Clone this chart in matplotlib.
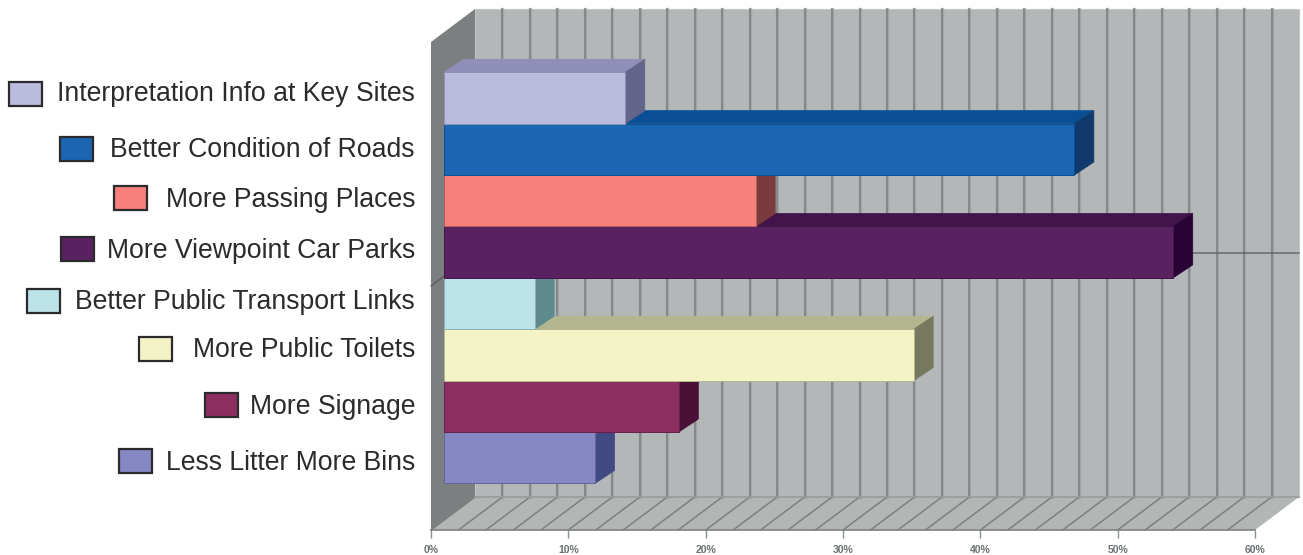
import numpy as np
import matplotlib
matplotlib.use("Agg")
import matplotlib.pyplot as plt
from matplotlib.patches import Polygon, Rectangle
from matplotlib.transforms import Affine2D

plt.rcParams['font.family'] = ['Liberation Sans', 'DejaVu Sans']

# Survey results, top bar first
categories = ['Interpretation Info at Key Sites', 'Better Condition of Roads',
              'More Passing Places', 'More Viewpoint Car Parks',
              'Better Public Transport Links', 'More Public Toilets',
              'More Signage', 'Less Litter More Bins']
values = [13.2, 45.9, 22.7, 53.1, 6.6, 34.2, 17.1, 11.0]

front_colors = ['#bbbbdd', '#1b66b3', '#f77f7c', '#5a2160', '#bce3e9', '#f3f3c5', '#8d2e63', '#8688c4']
top_colors = ['#8f8fb8', '#0a4f94', '#b5605e', '#42144a', '#8fb0b4', '#b3b78f', '#6a1f48', '#64669a']
side_colors = ['#63648a', '#103a6b', '#7a3b3e', '#2a0336', '#5d8a8c', '#77795f', '#4a1038', '#424a84']

x_ticks = [0, 10, 20, 30, 40, 50, 60]
x_labels = ['0%', '10%', '20%', '30%', '40%', '50%', '60%']

# Legend layout in pixels: swatch left edge, swatch centre, text centre
swatch_left = [9, 60, 114, 61, 27, 139, 205, 119]
swatch_mid = [94, 149, 198, 249, 301, 349, 405, 461]
text_mid = [94, 150, 200, 251, 302, 350, 407, 463]

W, H = 1303, 555
fig = plt.figure(figsize=(W / 100, H / 100), dpi=100)
ax = fig.add_axes([431 / W, 1 - 530 / H, 824 / W, 488 / H])
ax.set_xlim(0, 60)
ax.set_ylim(8.216, -1.278)
ax.patch.set_visible(False)

# Depth of the box and of each bar, in data units
wall_dx, wall_dy = 44 / 824 * 60, 33 / 51.4
bar_dx, bar_dy = 19.5 / 824 * 60, 13 / 51.4
y0, y1 = ax.get_ylim()

wall = '#b3b7b8'
grid = '#7c8081'

# Back wall, side wall and floor
ax.add_patch(Polygon([(wall_dx, y1 - wall_dy), (60 + wall_dx, y1 - wall_dy),
                      (60 + wall_dx, y0 - wall_dy), (wall_dx, y0 - wall_dy)],
                     fc=wall, ec='#c4c7c8', lw=0.8, clip_on=False, zorder=1))
ax.add_patch(Polygon([(0, y1), (wall_dx, y1 - wall_dy), (wall_dx, y0 - wall_dy), (0, y0)],
                     fc='#7b7f7f', ec='none', clip_on=False, zorder=1))
ax.add_patch(Polygon([(0, y0), (60, y0), (60 + wall_dx, y0 - wall_dy), (wall_dx, y0 - wall_dy)],
                     fc='#b2b6b5', ec='none', clip_on=False, zorder=1))

# Gridlines every 2% up the back wall and across the floor
for g in np.arange(0, 61, 2):
    bx = g + wall_dx
    if g > 0 and g < 60:
        ax.plot([bx, bx], [y1 - wall_dy, y0 - wall_dy], color='#979b9c', lw=2.4, alpha=0.6,
                clip_on=False, zorder=2)
        ax.plot([bx, bx], [y1 - wall_dy, y0 - wall_dy], color=grid, lw=1.1,
                clip_on=False, zorder=2)
    if g < 60:
        ax.plot([g, bx], [y0, y0 - wall_dy], color=grid, lw=1.1, clip_on=False, zorder=2)
ax.plot([wall_dx, 60 + wall_dx], [y0 - wall_dy, y0 - wall_dy], color='#989c9c', lw=1.2,
        clip_on=False, zorder=2)

# Middle horizontal line along the side wall and back wall
ym = (y0 + y1) / 2
ax.plot([0, wall_dx, 60 + wall_dx], [ym, ym - wall_dy, ym - wall_dy], color='#565a5b', lw=0.9,
        clip_on=False, zorder=2)

# Bars sit a little behind the front plane
bar_t = ax.transData + Affine2D().translate(13, 9.75)
for i in range(len(values) - 1, -1, -1):
    v = values[i]
    z = 3 + (len(values) - i) * 0.1
    ax.add_patch(Polygon([(0, i - 0.5), (bar_dx, i - 0.5 - bar_dy), (v + bar_dx, i - 0.5 - bar_dy), (v, i - 0.5)],
                         fc=top_colors[i], ec=top_colors[i], lw=0.5, transform=bar_t,
                         clip_on=False, zorder=z))
    ax.add_patch(Polygon([(v, i - 0.5), (v + bar_dx, i - 0.5 - bar_dy), (v + bar_dx, i + 0.5 - bar_dy), (v, i + 0.5)],
                         fc=side_colors[i], ec=side_colors[i], lw=0.5, transform=bar_t,
                         clip_on=False, zorder=z))
    ax.barh(i, v, height=1.0, color=front_colors[i], edgecolor=top_colors[i], linewidth=0.7,
            transform=bar_t, clip_on=False, zorder=z)
ax.set_xlim(0, 60)
ax.set_ylim(y0, y1)

# Axis along the front of the floor
for s in ['top', 'left', 'right']:
    ax.spines[s].set_visible(False)
ax.spines['bottom'].set_color('#7d8182')
ax.spines['bottom'].set_linewidth(1.2)
ax.set_yticks([])
ax.set_xticks(x_ticks)
ax.set_xticklabels(x_labels, fontsize=7.5, fontweight='bold', color='#6b7072')
ax.tick_params(axis='x', length=6, width=1.0, color='#8b8f90', pad=5)

# Hand-placed legend to the left of the chart
lax = fig.add_axes([0, 0, 1, 1], zorder=5)
lax.set_xlim(0, W)
lax.set_ylim(H, 0)
lax.axis('off')
for name, col, sl, sm, tm in zip(categories, front_colors, swatch_left, swatch_mid, text_mid):
    lax.add_patch(Rectangle((sl, sm - 12), 33, 24, fc=col, ec='#2b2a2d', lw=1.6))
    lax.text(415, tm, name, ha='right', va='center', fontsize=19.2, color='#2b2a2d')

fig.savefig('out.png', dpi=100)
